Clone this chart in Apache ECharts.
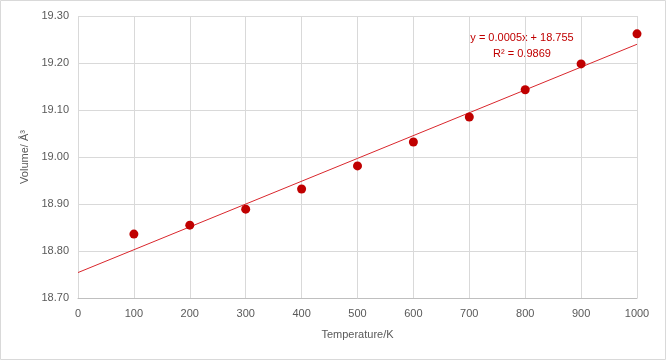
<!DOCTYPE html>
<html><head><meta charset="utf-8">
<script src="https://cdn.jsdelivr.net/npm/echarts@6/dist/echarts.min.js"></script>
<style>html,body{margin:0;padding:0;background:#fff}#c{width:666px;height:360px}</style>
</head><body><div id="c"></div>
<script>
const temperatures = [100, 200, 300, 400, 500, 600, 700, 800, 900, 1000];
const volumes = [18.836, 18.855, 18.889, 18.932, 18.981, 19.032, 19.085, 19.143, 19.198, 19.262];
const xTicks = [0, 100, 200, 300, 400, 500, 600, 700, 800, 900, 1000];
const yTicks = [18.70, 18.80, 18.90, 19.00, 19.10, 19.20, 19.30];
const equationText = 'y = 0.0005x + 18.755';
const r2Text = 'R² = 0.9869';

// least-squares trend line from the data
const n = temperatures.length;
const mx = temperatures.reduce((a, b) => a + b, 0) / n;
const my = volumes.reduce((a, b) => a + b, 0) / n;
let sxy = 0, sxx = 0;
for (let i = 0; i < n; i++) { sxy += (temperatures[i] - mx) * (volumes[i] - my); sxx += (temperatures[i] - mx) ** 2; }
const slope = sxy / sxx, intercept = my - slope * mx;
const trend = [[xTicks[0], intercept], [xTicks[xTicks.length - 1], intercept + slope * xTicks[xTicks.length - 1]]];

const chart = echarts.init(document.getElementById('c'));
const font = 'Liberation Sans, Arial, sans-serif';
chart.setOption({
  animation: false,
  grid: { left: 78, right: 29, top: 16, bottom: 62 },
  xAxis: {
    type: 'value', min: xTicks[0], max: xTicks[xTicks.length - 1], interval: 100,
    name: 'Temperature/K', nameLocation: 'middle', nameGap: 31,
    nameTextStyle: { color: '#595959', fontSize: 11, fontFamily: font },
    axisLine: { show: true, lineStyle: { color: '#bfbfbf' } },
    axisTick: { show: false },
    axisLabel: { color: '#595959', fontSize: 11, fontFamily: font, margin: 10, formatter: v => String(v) },
    splitLine: { show: true, lineStyle: { color: '#d9d9d9' } }
  },
  yAxis: {
    type: 'value', min: yTicks[0], max: yTicks[yTicks.length - 1], interval: 0.1,
    name: 'Volume/ Å³', nameLocation: 'middle', nameGap: 44,
    nameTextStyle: { color: '#595959', fontSize: 11, fontFamily: font },
    axisLine: { show: false }, axisTick: { show: false },
    axisLabel: { color: '#595959', fontSize: 11, fontFamily: font, margin: 9, formatter: v => v.toFixed(2) },
    splitLine: { show: true, lineStyle: { color: '#d9d9d9' } }
  },
  series: [
    { type: 'line', data: trend, symbol: 'none', lineStyle: { color: '#d9262c', width: 1 }, z: 2, silent: true },
    { type: 'scatter', data: temperatures.map((t, i) => [t, volumes[i]]), symbolSize: 9, itemStyle: { color: '#c00000', opacity: 1 }, z: 3 }
  ],
  graphic: [
    { type: 'rect', shape: { x: 0.5, y: 0.5, width: 665, height: 359 }, style: { fill: 'none', stroke: '#d9d9d9', lineWidth: 1 } },
    { type: 'text', x: 522, y: 38, style: { text: equationText, fill: '#c00000', font: '11px ' + font, textAlign: 'center', textVerticalAlign: 'middle' } },
    { type: 'text', x: 522, y: 54, style: { text: r2Text, fill: '#c00000', font: '11px ' + font, textAlign: 'center', textVerticalAlign: 'middle' } }
  ]
});
</script></body></html>
